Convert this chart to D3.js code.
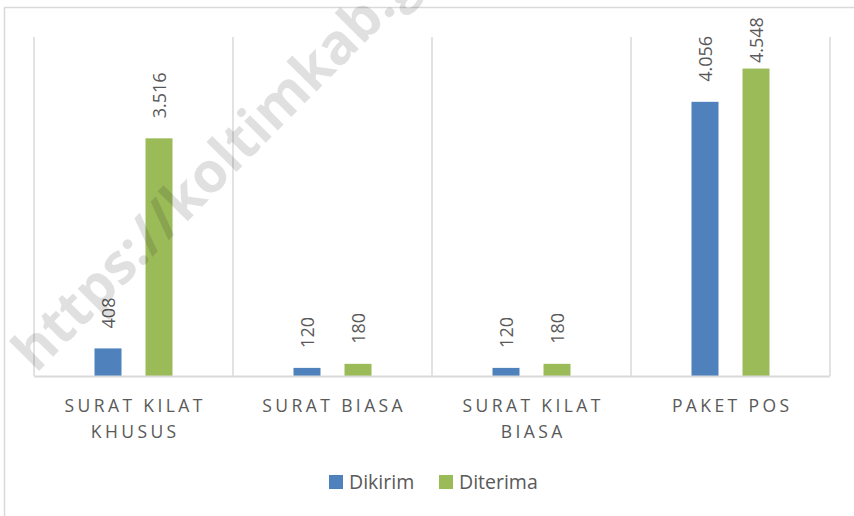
<!DOCTYPE html>
<html><head><meta charset="utf-8">
<script src="https://cdn.jsdelivr.net/npm/d3@7"></script>
<style>body{margin:0;background:#fff}svg{display:block}</style>
</head><body>
<script>
const categories = [["SURAT KILAT","KHUSUS"],["SURAT BIASA"],["SURAT KILAT","BIASA"],["PAKET POS"]];
const seriesNames = ["Dikirim","Diterima"];
const dikirim = [408,120,120,4056];
const diterima = [3516,180,180,4548];
const labelsDikirim = ["408","120","120","4.056"];
const labelsDiterima = ["3.516","180","180","4.548"];
const colors = ["#4f81bd","#9bbb59"];

const W=854,H=516;
const svg=d3.select("body").append("svg").attr("width",W).attr("height",H);
// chart border
svg.append("path").attr("d","M4.5,"+H+"V7.5H"+W).attr("fill","none").attr("stroke","#d9d9d9").attr("stroke-width",1.5);

const x0=d3.scaleBand().domain(d3.range(categories.length)).range([34,830]).paddingInner(0).paddingOuter(0);
const x1=d3.scaleBand().domain([0,1]).range([0,x0.bandwidth()]).paddingInner(0.4706).paddingOuter(1.186);
const y=d3.scaleLinear().domain([0,5015]).range([376,37]);

// vertical gridlines at category boundaries
const bounds=d3.range(categories.length+1).map(i=> i<categories.length? x0(i): x0(i-1)+x0.bandwidth());
svg.selectAll("line.grid").data(bounds).enter().append("line")
 .attr("x1",d=>d).attr("x2",d=>d).attr("y1",y.range()[1]).attr("y2",y(0))
 .attr("stroke","#d9d9d9").attr("stroke-width",1.5);

const data=[];
categories.forEach((c,i)=>{
  data.push({i,s:0,v:dikirim[i],l:labelsDikirim[i]});
  data.push({i,s:1,v:diterima[i],l:labelsDiterima[i]});
});
svg.selectAll("rect.bar").data(data).enter().append("rect")
 .attr("x",d=>x0(d.i)+x1(d.s)).attr("width",x1.bandwidth())
 .attr("y",d=>y(d.v)).attr("height",d=>y(0)-y(d.v)).attr("fill",d=>colors[d.s]);

// axis baseline
svg.append("line").attr("x1",34).attr("x2",830).attr("y1",y(0)+0.5).attr("y2",y(0)+0.5)
 .attr("stroke","#d9d9d9").attr("stroke-width",2);

// data labels
svg.selectAll("text.lbl").data(data).enter().append("text")
 .attr("transform",d=>{const cx=x0(d.i)+x1(d.s)+x1.bandwidth()/2; const yy=Math.max(y(d.v)-20,63); return `translate(${cx+7},${yy}) rotate(-90)`;})
 .attr("font-family","Open Sans, sans-serif").attr("font-size",18).attr("fill","#595959")
 .text(d=>d.l);

// category labels
categories.forEach((c,i)=>{
  const cx=x0(i)+x0.bandwidth()/2;
  c.forEach((line,j)=>{
    svg.append("text").attr("x",cx+1.7).attr("y",412+j*26).attr("text-anchor","middle")
     .attr("font-family","Open Sans, sans-serif").attr("font-size",17.5).attr("letter-spacing","3.4px")
     .attr("fill","#595959").text(line);
  });
});

// legend
const leg=[{x:329,n:seriesNames[0],c:colors[0]},{x:439,n:seriesNames[1],c:colors[1]}];
leg.forEach(l=>{
  svg.append("rect").attr("x",l.x).attr("y",475).attr("width",14).attr("height",14).attr("fill",l.c);
  svg.append("text").attr("x",l.x+20).attr("y",488.5).attr("font-family","Open Sans, sans-serif")
   .attr("font-size",19.5).attr("fill","#595959").text(l.n);
});

// watermark
svg.append("text").attr("transform","translate(36,374) rotate(-45.2)")
 .attr("font-family","Open Sans, sans-serif").attr("font-weight","bold").attr("font-size",56)
 .attr("fill","#000").attr("fill-opacity",0.12).text("https://koltimkab.go.id");
</script>
</body></html>
